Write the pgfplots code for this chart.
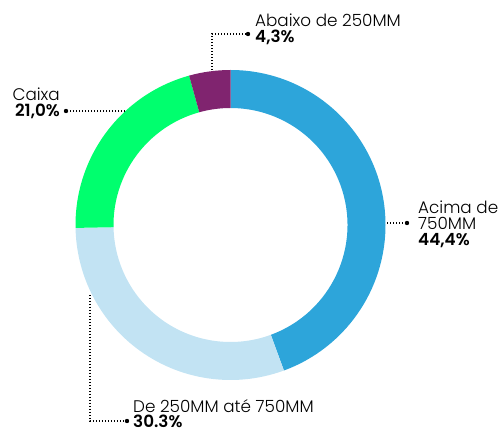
\documentclass[border=0pt]{standalone}
\usepackage{fontspec}
\setmainfont{Poppins}[UprightFont=* Light, BoldFont=* SemiBold]
\usepackage{pgfplots}
\usepackage{pgfplotstable}
\pgfplotsset{compat=1.18}
\definecolor{cBlue}{HTML}{2DA5DA}
\definecolor{cLight}{HTML}{C2E3F3}
\definecolor{cGreen}{HTML}{00FF6E}
\definecolor{cPurple}{HTML}{80246F}
\pgfplotstableread{
label value
Acima 44.4
De250 30.3
Caixa 21.0
Abaixo 4.3
}\datatable
\begin{document}
\begin{tikzpicture}
\pgfplotstablegetelem{0}{value}\of\datatable \let\vA\pgfplotsretval
\pgfplotstablegetelem{1}{value}\of\datatable \let\vB\pgfplotsretval
\pgfplotstablegetelem{2}{value}\of\datatable \let\vC\pgfplotsretval
\pgfplotstablegetelem{3}{value}\of\datatable \let\vD\pgfplotsretval
\pgfmathsetmacro\aA{90-3.6*\vA}
\pgfmathsetmacro\aB{\aA-3.6*\vB}
\pgfmathsetmacro\aC{\aB-3.6*\vC}
\pgfmathsetmacro\aD{\aC-3.6*\vD}
\begin{axis}[
  width=499pt, height=434pt, scale only axis,
  xmin=0, xmax=499, ymin=0, ymax=434,
  hide axis, clip=false,
]
\path (axis cs:0,0) (axis cs:499,434);
\def\wedge#1#2#3{\fill[#1, shift={(axis cs:230.5,209)}] (#2:155pt) arc[start angle=#2, end angle=#3, radius=155pt] -- (#3:117pt) arc[start angle=#3, end angle=#2, radius=117pt] -- cycle;}
\wedge{cBlue}{90}{\aA}
\wedge{cLight}{\aA}{\aB}
\wedge{cGreen}{\aB}{\aC}
\wedge{cPurple}{\aC}{\aD}
\tikzset{lead/.style={line width=1.2pt, dash pattern=on 1.2pt off 1.8pt},
  lbl/.style={inner sep=0pt, font=\fontsize{16.8}{16.8}\selectfont},
  lblb/.style={inner sep=0pt, font=\fontsize{16.8}{16.8}\selectfont\bfseries}}
% Abaixo
\draw[lead] (axis cs:212,364) -- (axis cs:212,400) -- (axis cs:247,400);
\fill (axis cs:248,400) circle[radius=2.2pt];
\node[lbl, anchor=base west] at (axis cs:255,407) {Abaixo de 250MM};
\node[lblb, anchor=base west] at (axis cs:255,391) {4,3\%};
% Caixa
\draw[lead] (axis cs:125,323) -- (axis cs:67,323);
\fill (axis cs:66,323) circle[radius=2.2pt];
\node[lbl, anchor=base east] at (axis cs:60,333) {Caixa};
\node[lblb, anchor=base east] at (axis cs:60,317) {21,0\%};
% Acima
\draw[lead] (axis cs:387,211) -- (axis cs:406,211);
\fill (axis cs:407,211) circle[radius=2.2pt];
\node[lbl, anchor=base west] at (axis cs:418,220) {Acima de};
\node[lbl, anchor=base west] at (axis cs:418,204) {750MM};
\node[lblb, anchor=base west] at (axis cs:418,188) {44,4\%};
% De 250
\draw[lead] (axis cs:90,139) -- (axis cs:90,13) -- (axis cs:126,13);
\fill (axis cs:127,13) circle[radius=2.2pt];
\node[lbl, anchor=base west] at (axis cs:133,21.5) {De 250MM até 750MM};
\node[lblb, anchor=base west] at (axis cs:133,6) {30.3\%};
\end{axis}
\end{tikzpicture}
\end{document}
